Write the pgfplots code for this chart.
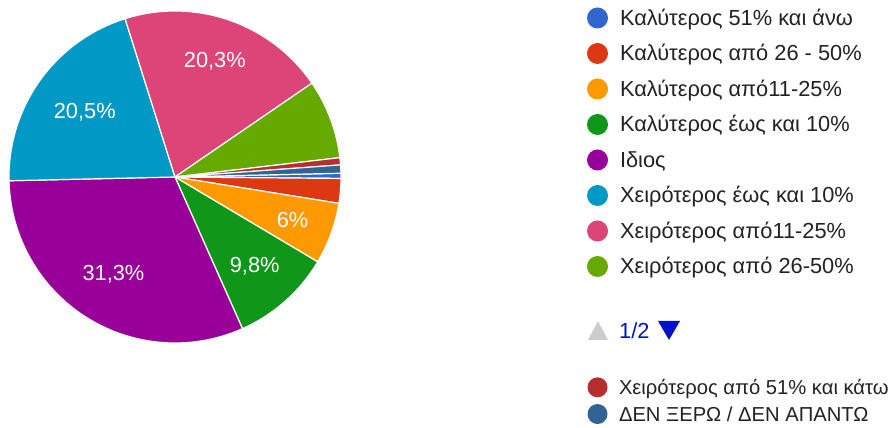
\documentclass[border=0pt]{standalone}
\usepackage{pgfplots}
\pgfplotsset{compat=1.18}
\usepackage{pgfplotstable}
\usepackage{fontspec}
\setmainfont{Liberation Sans}
\definecolor{c0}{HTML}{3366CC}
\definecolor{c1}{HTML}{DC3912}
\definecolor{c2}{HTML}{FF9900}
\definecolor{c3}{HTML}{109618}
\definecolor{c4}{HTML}{990099}
\definecolor{c5}{HTML}{0099C6}
\definecolor{c6}{HTML}{DD4477}
\definecolor{c7}{HTML}{66AA00}
\definecolor{c8}{HTML}{B82E2E}
\definecolor{c9}{HTML}{316395}
\definecolor{legtext}{HTML}{222222}
\definecolor{pager}{HTML}{0011CC}

% share of answers (%), whether the slice carries a label, label distance from centre (px)
\pgfplotstableread{
idx value show lr
0 0.5 0 0
1 2.4 0 0
2 6.0 1 125
3 9.8 1 120
4 31.3 1 115
5 20.5 1 111
6 20.3 1 122
7 7.7 0 0
8 0.7 0 0
9 0.8 0 0
}\piedata

\newcommand\lfont{\fontsize{21.8}{24}\selectfont}
\newcommand\sfont{\fontsize{20.2}{23}\selectfont}

\pgfplotsset{
  pieframe/.style={
    x=1pt, y=1pt, xmin=0, xmax=894, ymin=0, ymax=428,
    hide axis, clip=false, scale only axis,
    at={(0pt,0pt)}, anchor=south west,
    legend cell align=left,
  },
}

\begin{document}
\begin{tikzpicture}
\useasboundingbox (0pt,0pt) rectangle (894pt,428pt);
\begin{axis}[pieframe,
  legend image code/.code={
    \path[draw=none, fill=none] (0pt,0pt) -- (33pt,0pt);
    \fill[#1, draw=none] (10.5pt,0pt) circle[radius=10.5pt];
  },
  legend style={draw=none, fill=none, inner sep=0pt, outer sep=0pt,
    at={(0.6566,0.98248)}, anchor=north west,
    font=\lfont\color{legtext},
    nodes={inner sep=0pt, text height=18pt, text depth=3pt},
    row sep=14.5pt, column sep=0pt},
]
\pgfplotstablegetrowsof{\piedata}
\pgfmathtruncatemacro\nrows{\pgfplotsretval-1}
\def\curang{1.3}
\pgfplotsforeachungrouped \i in {0,...,\nrows}{%
  \pgfplotstablegetelem{\i}{value}\of\piedata \let\val\pgfplotsretval
  \pgfplotstablegetelem{\i}{show}\of\piedata \let\shw\pgfplotsretval
  \pgfplotstablegetelem{\i}{lr}\of\piedata \let\lrad\pgfplotsretval
  \pgfmathsetmacro\endang{\curang-3.6*\val}%
  \pgfmathsetmacro\midang{(\curang+\endang)/2}%
  \edef\cmd{\noexpand\fill[c\i, draw=white, line width=1.2pt, line join=round]
    (axis cs:175,251) -- ++(\curang:166pt) arc[start angle=\curang, end angle=\endang, radius=166pt] -- cycle;}%
  \cmd
  \ifnum\shw=1
    \edef\cmd{\noexpand\path (axis cs:175,251) ++(\midang:\lrad pt) node[text=white, font=\noexpand\lfont]
      {\noexpand\pgfmathprintnumber[fixed, use comma, precision=1, assume math mode=true]{\val}\noexpand\%};}%
    \cmd
  \fi
  \let\curang\endang
}
\addlegendimage{c0}\addlegendentry{Καλύτερος 51\% και άνω}
\addlegendimage{c1}\addlegendentry{Καλύτερος από 26 - 50\%}
\addlegendimage{c2}\addlegendentry{Καλύτερος από11-25\%}
\addlegendimage{c3}\addlegendentry{Καλύτερος έως και 10\%}
\addlegendimage{c4}\addlegendentry{Ιδιος}
\addlegendimage{c5}\addlegendentry{Χειρότερος έως και 10\%}
\addlegendimage{c6}\addlegendentry{Χειρότερος από11-25\%}
\addlegendimage{c7}\addlegendentry{Χειρότερος από 26-50\%}
\end{axis}
\begin{axis}[pieframe,
  legend image code/.code={
    \path[draw=none, fill=none] (0pt,0pt) -- (32pt,0pt);
    \fill[#1, draw=none] (10.5pt,0pt) circle[radius=10pt];
  },
  legend style={draw=none, fill=none, inner sep=0pt, outer sep=0pt,
    at={(0.6566,0.1184)}, anchor=north west,
    font=\sfont\color{legtext},
    nodes={inner sep=0pt, text height=17pt, text depth=3pt},
    row sep=6.7pt, column sep=0pt},
]
\addlegendimage{c8}\addlegendentry{Χειρότερος από 51\% και κάτω}
\addlegendimage{c9}\addlegendentry{ΔΕΝ ΞΕΡΩ / ΔΕΝ ΑΠΑΝΤΩ}
\end{axis}
% legend pager
\fill[black!20] (588pt,88pt) -- (608pt,88pt) -- (598pt,107pt) -- cycle;
\node[anchor=base west, inner sep=0pt, font=\lfont, text=pager] at (619pt,89pt) {1/2};
\fill[pager] (658pt,107pt) -- (680pt,107pt) -- (669pt,88pt) -- cycle;
\end{tikzpicture}
\end{document}
